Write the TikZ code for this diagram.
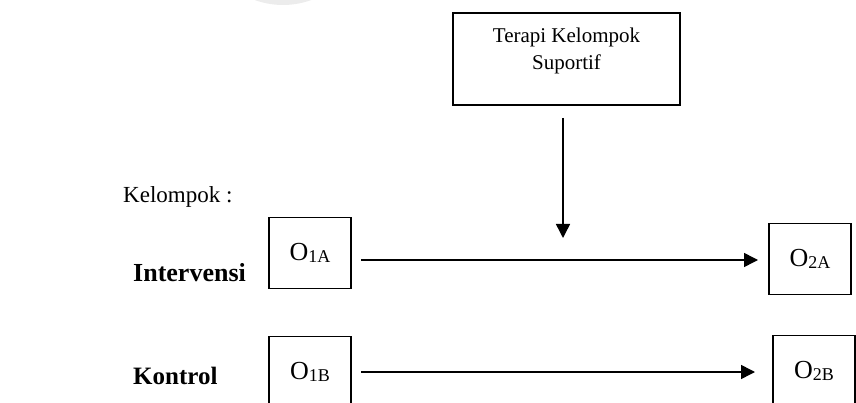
\documentclass[tikz,border=0pt]{standalone}
\usepackage{fontspec}
\setmainfont{Liberation Serif}
\usetikzlibrary{arrows.meta}
\tikzset{
  obsbox/.style={draw,line width=1.4pt,minimum width=82pt,minimum height=71pt,inner sep=0pt,
    font=\fontsize{26}{30}\selectfont},
  treatbox/.style={draw,line width=1.4pt,minimum width=227pt,minimum height=92pt,inner sep=0pt,
    align=center,text depth=21pt,font=\fontsize{21}{27}\selectfont},
  grouplabel/.style={anchor=base west,inner sep=0pt,font=\fontsize{23}{27}\selectfont},
  flow/.style={line width=1.5pt,-{Triangle[length=14pt,width=14pt]}}
}
\newcommand{\obs}[1]{O\raisebox{-1.5pt}{\fontsize{18}{20}\selectfont #1}}
\begin{document}
\begin{tikzpicture}[x=1pt,y=-1pt]
  \useasboundingbox (0,0) rectangle (856,403);
  \clip (0,0) rectangle (856,403);
  % watermark
  \fill[gray!15] (283,-77) circle (82);
  \node[treatbox] (terapi) at (566.5,59) {Terapi Kelompok\\Suportif};
  \node[grouplabel] (kelompok) at (123,203) {Kelompok :};
  \node[grouplabel,font=\fontsize{26}{30}\selectfont\bfseries] (intervensi) at (133,281) {Intervensi};
  \node[grouplabel,font=\fontsize{25}{30}\selectfont\bfseries] (kontrol) at (133,384) {Kontrol};
  \node[obsbox] (o1a) at (310,253) {\obs{1A}};
  \node[obsbox] (o2a) at (810,259) {\obs{2A}};
  \node[obsbox] (o1b) at (310,372) {\obs{1B}};
  \node[obsbox] (o2b) at (814,371) {\obs{2B}};
  \coordinate (v1) at (563,118);
  \coordinate (v2) at (563,238);
  \coordinate (a1) at (361,260);
  \coordinate (a2) at (758,260);
  \coordinate (b1) at (361,372);
  \coordinate (b2) at (755,372);
  \draw[flow] (v1) -- (v2);
  \draw[flow] (a1) -- (a2);
  \draw[flow] (b1) -- (b2);
\end{tikzpicture}
\end{document}
